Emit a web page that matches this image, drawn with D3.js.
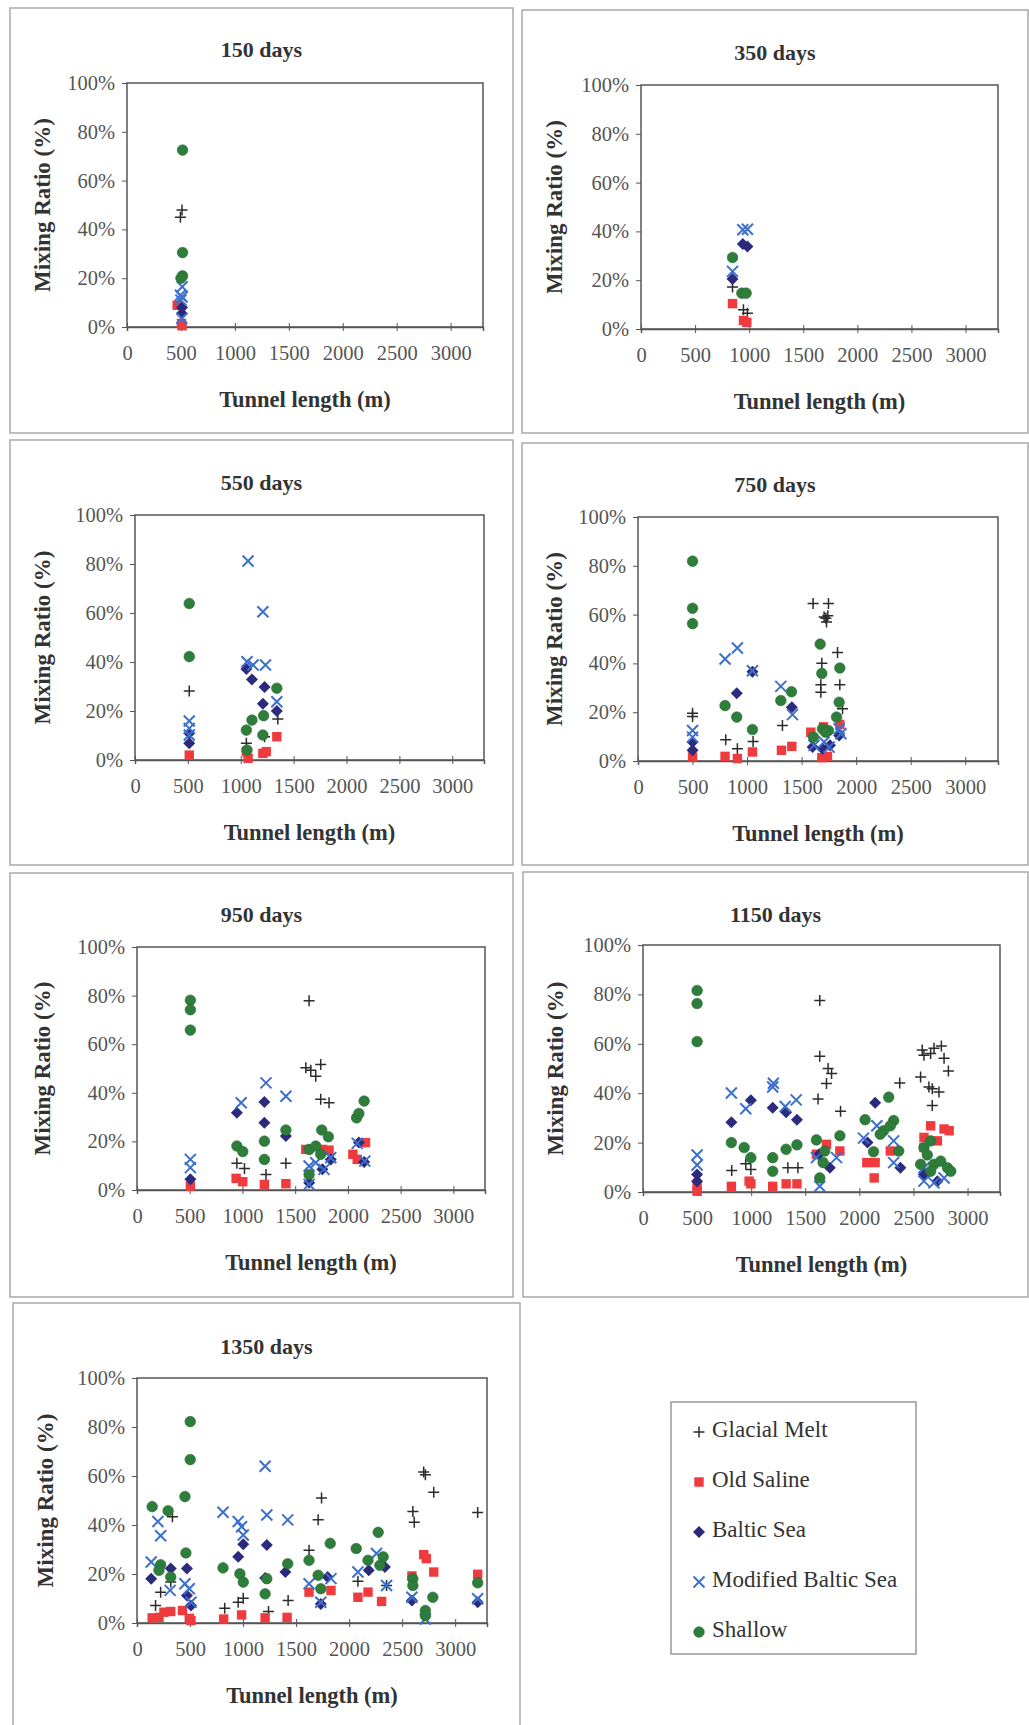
<!DOCTYPE html>
<html>
<head>
<meta charset="utf-8">
<script src="https://cdn.jsdelivr.net/npm/d3@7"></script>
<style>
  body { margin: 0; background: #fff; }
  svg { display: block; }
  svg text { font-family: "Liberation Serif", "DejaVu Serif", "Noto Serif", "Times New Roman", Times, serif; }
</style>
</head>
<body>
<script>
// Sampling campaigns (days) and end-member names
const panelDays = [150, 350, 550, 750, 950, 1150, 1350];
const seriesNames = ["Glacial Melt", "Old Saline", "Baltic Sea", "Modified Baltic Sea", "Shallow"];
const xTicks = [0, 500, 1000, 1500, 2000, 2500, 3000];
const yTicks = [0, 20, 40, 60, 80, 100];

// [tunnel length (m), mixing ratio (%)]
const glacial150 = [[510, 48], [495, 45]];
const saline150 = [[465, 8.9], [510, 0.5], [505, 1.5]];
const baltic150 = [[510, 8], [508, 5.5]];
const modified150 = [[495, 13], [510, 12.3], [512, 16.5], [508, 3.5], [500, 11]];
const shallow150 = [[515, 72.5], [515, 30.5], [515, 21], [500, 20]];

const glacial350 = [[846, 17.2], [947, 7.9], [984, 6.5]];
const saline350 = [[846, 10.4], [947, 3.5], [978, 2.7]];
const baltic350 = [[846, 20.5], [941, 34.8], [984, 33.8]];
const modified350 = [[846, 23.6], [941, 40.7], [984, 40.9]];
const shallow350 = [[846, 29.3], [932, 14.7], [972, 14.7]];

const glacial550 = [[513, 28.2], [1053, 6.8], [1350, 16.7], [1225, 9.5]];
const saline550 = [[513, 2.0], [1053, 3.4], [1069, 0.7], [1209, 2.7], [1241, 3.4], [1341, 9.5]];
const baltic550 = [[513, 6.8], [513, 10.9], [1053, 37.1], [1106, 32.9], [1225, 29.8], [1209, 23.0], [1341, 20.0]];
const modified550 = [[513, 15.9], [513, 12.9], [513, 10.2], [1069, 81.2], [1209, 60.5], [1059, 40.1], [1116, 38.8], [1234, 38.8], [1341, 23.8]];
const shallow550 = [[513, 63.9], [513, 42.2], [1053, 12.2], [1106, 16.3], [1059, 4.1], [1216, 18.1], [1209, 10.2], [1341, 29.3]];

const glacial750 = [[500, 19.6], [500, 18.2], [804, 8.7], [911, 5.0], [1055, 8.0], [1324, 14.6], [1605, 64.6], [1746, 64.6], [1706, 59], [1722, 58.5], [1728, 57], [1740, 59.5], [1685, 40.1], [1676, 31.2], [1676, 28.2], [1829, 44.5], [1850, 31.3], [1875, 21.4]];
const saline750 = [[500, 1.6], [798, 1.9], [911, 1.0], [1049, 3.7], [1315, 4.4], [1410, 6.0], [1584, 11.8], [1685, 1.4], [1737, 1.9], [1700, 14], [1850, 15]];
const baltic750 = [[500, 7.8], [500, 4.4], [905, 27.8], [1049, 36.6], [1410, 22], [1600, 5.7], [1691, 5.0], [1844, 10.5], [1760, 6.5]];
const modified750 = [[500, 12.5], [500, 9.8], [798, 41.8], [911, 46.3], [1049, 37.0], [1309, 30.6], [1416, 19.0], [1614, 6.4], [1706, 7.8], [1752, 5.7], [1844, 13.2], [1860, 11.2]];
const shallow750 = [[500, 81.9], [500, 62.6], [500, 56.3], [798, 22.7], [905, 18], [1049, 12.9], [1309, 24.8], [1407, 28.4], [1670, 47.9], [1685, 35.9], [1608, 9.8], [1691, 13.2], [1746, 12.5], [1850, 38.1], [1844, 24.1], [1820, 18], [1720, 11.8]];

const glacial950 = [[1632, 77.9], [1601, 50.3], [1648, 49.3], [1742, 51.6], [1695, 46.8], [1742, 37.3], [1821, 35.9], [947, 11.0], [1019, 8.8], [1223, 6.4], [1412, 11.0]];
const saline950 = [[506, 1.6], [940, 4.8], [1003, 3.4], [1208, 2.3], [1412, 2.6], [1601, 16.7], [1821, 16.4], [2167, 19.5], [2047, 14.7], [2088, 12.6], [1758, 16.7]];
const baltic950 = [[506, 4.4], [947, 31.8], [1208, 36.2], [1208, 27.7], [1412, 22.2], [1632, 3.0], [1758, 8.5], [1837, 12.6], [2154, 11.5], [2104, 19.5]];
const modified950 = [[506, 12.6], [506, 9.2], [988, 35.9], [1223, 44.1], [1412, 38.6], [1632, 9.9], [1695, 11.2], [1773, 8.5], [1837, 13.3], [2088, 19.2], [2160, 11.9], [1632, 2.3]];
const shallow950 = [[506, 78.1], [506, 74.2], [506, 65.8], [947, 18.1], [1003, 15.8], [1208, 20.1], [1208, 12.6], [1412, 24.7], [1752, 24.7], [1815, 21.9], [1632, 16.7], [1695, 18.1], [1742, 14.7], [1632, 6.4], [2082, 29.7], [2104, 31.5], [2154, 36.6]];

const glacial1150 = [[1634, 77.5], [1634, 55.0], [1711, 50.0], [1743, 48.0], [1696, 43.9], [1618, 37.7], [1826, 32.7], [820, 8.7], [950, 11.4], [997, 9.1], [1339, 9.8], [1432, 9.8], [2373, 44.1], [2581, 57.5], [2597, 55.4], [2659, 56.1], [2690, 58.2], [2758, 59.1], [2783, 54.1], [2823, 49.0], [2566, 46.6], [2643, 42.5], [2674, 41.8], [2736, 40.5], [2674, 35.0]];
const saline1150 = [[500, 2.3], [500, 0.3], [817, 2.3], [981, 4.4], [997, 3.3], [1199, 2.3], [1323, 3.3], [1423, 3.3], [1603, 15.3], [1696, 19.3], [1820, 16.6], [2069, 11.9], [2146, 11.9], [2137, 5.7], [2286, 16.6], [2597, 22.1], [2659, 26.8], [2783, 25.5], [2830, 24.8], [2597, 18], [2721, 20.7]];
const baltic1150 = [[500, 7.1], [500, 4.4], [817, 28.2], [997, 37.1], [1199, 34.1], [1323, 32.3], [1423, 29.3], [1628, 15.3], [1727, 9.8], [2146, 36.1], [2075, 20.0], [2379, 9.8], [2597, 7.1], [2721, 4.4]];
const modified1150 = [[500, 15.0], [500, 10.9], [817, 40.1], [950, 33.7], [1199, 42.5], [1205, 44], [1314, 34.6], [1416, 37.3], [1603, 13.9], [1634, 2.3], [1789, 13.9], [2038, 21.8], [2162, 26.8], [2317, 20.7], [2317, 11.9], [2597, 4.4], [2690, 3.7], [2783, 5.7], [2597, 9.8]];
const shallow1150 = [[500, 81.6], [500, 76.3], [500, 60.9], [817, 20.0], [935, 18.0], [997, 13.9], [1199, 13.9], [1199, 8.4], [1323, 17.3], [1423, 19.1], [1603, 21.1], [1680, 16.6], [1820, 22.8], [1634, 5.7], [1665, 11.9], [2053, 29.3], [2271, 38.4], [2317, 28.9], [2131, 16.3], [2224, 24.8], [2286, 26.8], [2364, 16.6], [2193, 23.4], [2597, 18], [2659, 20.7], [2628, 15], [2690, 11.2], [2752, 12.5], [2814, 9.8], [2845, 8.4], [2659, 8.4], [2566, 11.2]];

const glacial1350 = [[175, 7.1], [223, 12.6], [334, 43.4], [318, 16.7], [827, 6.0], [954, 8.5], [1002, 10.1], [1240, 4.7], [1425, 9.2], [1622, 29.7], [1708, 42.1], [1740, 51.0], [2353, 15.3], [2083, 17.0], [2601, 45.5], [2614, 41.1], [2703, 61.6], [2719, 60.5], [2798, 53.4], [3212, 45.1]];
const saline1350 = [[143, 2.1], [207, 2.3], [254, 4.4], [318, 4.7], [429, 5.1], [493, 1.9], [509, 1.0], [817, 1.6], [986, 3.3], [1208, 2.1], [1415, 2.3], [1622, 12.6], [1829, 13.3], [2083, 10.5], [2178, 12.6], [2306, 8.8], [2592, 19.2], [2703, 27.9], [2728, 26.3], [2798, 20.8], [3212, 19.9]];
const baltic1350 = [[134, 18.1], [318, 22.2], [471, 22.2], [471, 11.2], [1002, 32.1], [954, 27.0], [1224, 31.8], [1208, 18.4], [1399, 20.8], [1797, 18.8], [1733, 7.8], [2185, 21.5], [2337, 22.9], [2592, 9.2], [3212, 8.5], [509, 7.1]];
const modified1350 = [[134, 24.9], [197, 41.4], [223, 35.6], [312, 13.3], [452, 16.0], [493, 14.0], [509, 8.5], [811, 45.2], [954, 41.4], [986, 39.3], [1002, 35.9], [1208, 64.0], [1224, 44.1], [1421, 42.1], [1622, 16.0], [1733, 8.5], [1829, 18.1], [2083, 20.8], [2258, 28.4], [2353, 15.3], [2592, 10.5], [2719, 1.6], [3212, 9.9]];
const shallow1350 = [[502, 82.2], [502, 66.7], [452, 51.6], [461, 28.6], [143, 47.5], [293, 45.8], [223, 23.8], [207, 21.5], [318, 18.8], [811, 22.5], [970, 20.1], [1002, 16.7], [1224, 18.1], [1208, 11.9], [1421, 24.2], [1622, 25.6], [1708, 19.5], [1733, 14.0], [1822, 32.5], [2067, 30.4], [2178, 25.6], [2274, 37.0], [2321, 27.0], [2290, 23.6], [2601, 18.1], [2601, 15.3], [2719, 5.1], [2719, 3.0], [2789, 10.5], [3212, 16.4]];

// Series per panel, in drawing order (same as legend order)
const panelSeries = [
  [glacial150, saline150, baltic150, modified150, shallow150],
  [glacial350, saline350, baltic350, modified350, shallow350],
  [glacial550, saline550, baltic550, modified550, shallow550],
  [glacial750, saline750, baltic750, modified750, shallow750],
  [glacial950, saline950, baltic950, modified950, shallow950],
  [glacial1150, saline1150, baltic1150, modified1150, shallow1150],
  [glacial1350, saline1350, baltic1350, modified1350, shallow1350]
];

// ---- page layout ----
const W = 1029, H = 1725;
const SERIF = '"Liberation Serif", "DejaVu Serif", "Noto Serif", "Times New Roman", Times, serif';

const frames = [
  { box: [10, 8, 513, 433],   plot: [127, 83, 483, 327],   titleY: 57 },
  { box: [522, 10, 1028, 433], plot: [641, 85, 998, 329],  titleY: 60 },
  { box: [10, 440, 513, 865],  plot: [135, 515, 484, 760], titleY: 490 },
  { box: [522, 443, 1028, 865], plot: [638, 517, 998, 761], titleY: 492 },
  { box: [10, 873, 513, 1297], plot: [137, 947, 485, 1190], titleY: 922 },
  { box: [523, 872, 1028, 1297], plot: [643, 945, 1000, 1192], titleY: 922 },
  { box: [13, 1303, 520, 1740], plot: [137, 1378, 487, 1623], titleY: 1354 }
];

const styles = [
  { color: "#2b2b2b" }, // glacial melt: plus
  { color: "#ef3b3e" }, // old saline: square
  { color: "#2c2a7c" }, // baltic sea: diamond
  { color: "#3d70cc" }, // modified baltic sea: cross
  { color: "#2e7d3b" }  // shallow: circle
];

const svg = d3.select("body").append("svg")
  .attr("width", W).attr("height", H)
  .attr("font-family", SERIF);

svg.append("rect").attr("width", W).attr("height", H).attr("fill", "#fff");

// draw a single marker of series k into selection g
function drawMarker(g, k, cx, cy) {
  const c = styles[k].color;
  if (k === 0) {
    g.append("path").attr("d", `M${cx - 5.5},${cy}H${cx + 5.5}M${cx},${cy - 5.5}V${cy + 5.5}`)
      .attr("stroke", c).attr("stroke-width", 1.5).attr("fill", "none");
  } else if (k === 1) {
    g.append("rect").attr("x", cx - 4.7).attr("y", cy - 4.7).attr("width", 9.4).attr("height", 9.4)
      .attr("fill", c);
  } else if (k === 2) {
    const s = 6;
    g.append("path").attr("d", `M${cx},${cy - s}L${cx + s},${cy}L${cx},${cy + s}L${cx - s},${cy}Z`)
      .attr("fill", c);
  } else if (k === 3) {
    const s = 5.5;
    g.append("path").attr("d", `M${cx - s},${cy - s}L${cx + s},${cy + s}M${cx - s},${cy + s}L${cx + s},${cy - s}`)
      .attr("stroke", c).attr("stroke-width", 2).attr("fill", "none");
  } else {
    g.append("circle").attr("cx", cx).attr("cy", cy).attr("r", 5.3)
      .attr("fill", c).attr("stroke", "#276b33").attr("stroke-width", 0.6);
  }
}

function addText(parent) {
  return parent.append("text").attr("font-family", SERIF);
}

panelDays.forEach((days, i) => {
  const f = frames[i];
  const [bx0, by0, bx1, by1] = f.box;
  const [L, T, R, B] = f.plot;

  // outer panel frame
  svg.append("rect")
    .attr("x", bx0).attr("y", by0).attr("width", bx1 - bx0).attr("height", by1 - by0)
    .attr("fill", "none").attr("stroke", "#a9a9a9").attr("stroke-width", 1.5);

  const x = d3.scaleLinear().domain([0, 3300]).range([L, R]);
  const y = d3.scaleLinear().domain([0, 100]).range([B, T]);

  // title
  addText(svg)
    .attr("x", (bx0 + bx1) / 2).attr("y", f.titleY)
    .attr("text-anchor", "middle")
    .attr("font-size", 22).attr("font-weight", "bold").attr("fill", "#333")
    .text(`${days} days`);

  // plot frame
  svg.append("rect")
    .attr("x", L).attr("y", T).attr("width", R - L).attr("height", B - T)
    .attr("fill", "none").attr("stroke", "#555").attr("stroke-width", 1.5);

  // y axis
  const ya = svg.append("g").attr("transform", `translate(${L},0)`)
    .call(d3.axisLeft(y).tickValues(yTicks).tickFormat(d => d + "%").tickSize(5).tickPadding(7));
  ya.attr("font-family", SERIF);
  ya.select(".domain").remove();
  ya.selectAll(".tick line").attr("stroke", "#555");
  ya.selectAll(".tick text")
    .attr("font-family", SERIF).attr("font-size", 20.5).attr("fill", "#555");

  // x axis
  const xa = svg.append("g").attr("transform", `translate(0,${B})`)
    .call(d3.axisBottom(x).tickValues(xTicks).tickFormat(d3.format("d")).tickSize(4).tickPadding(14));
  xa.attr("font-family", SERIF);
  xa.select(".domain").attr("stroke", "#555").attr("stroke-width", 1.5);
  xa.selectAll(".tick line").attr("y1", -4).attr("stroke", "#555");
  xa.selectAll(".tick text")
    .attr("font-family", SERIF).attr("font-size", 20.5).attr("fill", "#555");

  // axis titles
  addText(svg)
    .attr("x", (L + R) / 2).attr("y", B + 80)
    .attr("text-anchor", "middle")
    .attr("font-size", 22.5).attr("font-weight", "bold").attr("fill", "#333")
    .text("Tunnel length (m)");

  addText(svg)
    .attr("transform", `translate(${bx0 + 40},${(T + B) / 2}) rotate(-90)`)
    .attr("text-anchor", "middle")
    .attr("font-size", 23).attr("font-weight", "bold").attr("fill", "#333")
    .text("Mixing Ratio (%)");

  // markers
  const mg = svg.append("g");
  panelSeries[i].forEach((pts, k) => {
    const sg = mg.append("g").attr("class", "series-" + k);
    pts.forEach(p => drawMarker(sg, k, x(p[0]), y(p[1])));
  });
});

// legend
const lg = svg.append("g");
lg.append("rect")
  .attr("x", 671).attr("y", 1402).attr("width", 245).attr("height", 252)
  .attr("fill", "#fff").attr("stroke", "#999").attr("stroke-width", 1.5);

seriesNames.forEach((name, k) => {
  const cy = 1430 + k * 50;
  drawMarker(lg, k, 699, cy + 2);
  addText(lg)
    .attr("x", 712).attr("y", cy + 7)
    .attr("font-size", 23).attr("fill", "#333")
    .text(name);
});
</script>
</body>
</html>
